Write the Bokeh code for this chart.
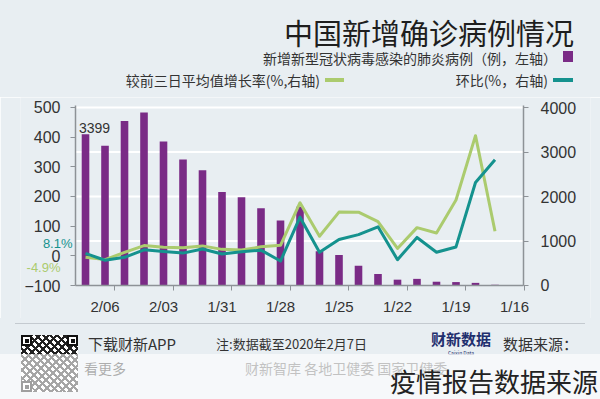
from bokeh.plotting import figure
from bokeh.models import Range1d, LinearAxis, FixedTicker, Label, Div
from bokeh.layouts import column
from bokeh.embed import file_html
from bokeh.resources import INLINE

# ---------------- data ----------------
dates = ["1/16", "1/17", "1/18", "1/19", "1/20", "1/21", "1/22", "1/23", "1/24",
         "1/25", "1/26", "1/27", "1/28", "1/29", "1/30", "1/31", "2/01", "2/02",
         "2/03", "2/04", "2/05", "2/06", "2/07"]
new_cases = [4, 17, 59, 77, 85, 149, 131, 259, 444, 688, 769, 1771, 1459, 1737,
             1982, 2102, 2590, 2829, 3235, 3887, 3694, 3143, 3399]
# 1/17 .. 2/07
mom_pct = [324, 247, 30, 12, 62, -13, 97.7, 71.4, 55.0, 11.8, 130.3, -17.6, 19.1,
           14.1, 6.1, 23.2, 9.2, 14.4, 20.2, -5.0, -14.9, 8.1]
vs3day_pct = [83, 405, 188, 77, 95, 25, 115, 147, 147.5, 66, 179, 35.6, 30.3,
              19.7, 21.8, 33.5, 27.2, 29.0, 34.7, 11.4, -12.8, -4.9]
tick_days = [0, 3, 6, 9, 12, 15, 18, 21]
pct_ticks = [-100, 0, 100, 200, 300, 400, 500]
case_ticks = [0, 1000, 2000, 3000, 4000]

title_text = "中国新增确诊病例情况"
legend_bar = "新增新型冠状病毒感染的肺炎病例（例，左轴）"
legend_mom = "环比(%，右轴)"
legend_3d = "较前三日平均值增长率(%,右轴)"

BG = "#e8eef2"
PURPLE = "#7a2b86"
TEAL = "#15928e"
GREEN = "#abcb6e"
TXT = "#333333"
CJKF = "'Noto Sans CJK SC', 'Noto Sans', sans-serif"
LAT = "Liberation Sans"
W = 600

days = list(range(len(dates)))
line_days = days[1:]


def span(text, cx=None, right=None, left=None, cy=0, fs=14, color=TXT, extra=""):
    if right is not None:
        pos = f"right:{W - right}px;"
    elif left is not None:
        pos = f"left:{left}px;"
    else:
        pos = f"left:{cx - 100}px;width:200px;text-align:center;"
    return (f'<span style="position:absolute;{pos}top:{cy - fs * 0.5:.1f}px;'
            f'font-size:{fs}px;line-height:{fs}px;color:{color};white-space:nowrap;'
            f'font-family:{CJKF};{extra}">{text}</span>')


def box(l, t, r, b, color, extra=""):
    return (f'<div style="position:absolute;left:{l}px;top:{t}px;width:{r - l}px;'
            f'height:{b - t}px;background:{color};{extra}"></div>')


# ---------------- header (page y 0..97) ----------------
H1 = 97
hdr_html = (f'<div style="position:relative;width:{W}px;height:{H1}px;background:{BG};overflow:hidden;">'
            + span(title_text, right=574, cy=32.5, fs=29, color="#1e1e1e")
            + box(563, 51, 573, 62, PURPLE)
            + span(legend_bar, right=557, cy=57.5, fs=14)
            + box(553, 78, 573, 82, TEAL)
            + span(legend_mom, right=548, cy=80, fs=14)
            + box(325, 78, 344, 82, GREEN)
            + span(legend_3d, right=320, cy=80, fs=14)
            + '</div>')
hdr = Div(text=hdr_html, width=W, height=H1, margin=0)

# ---------------- main chart (page y 97..318, frame x 20..590) ----------------
# axes: left at page x 75, right at page x 523, y 105..285
X_AX_L = 22.513          # day value at the left axis
X_AX_R = -0.462          # day value at the right axis
PCT_TOP = 506.7          # left-axis value at the top of the axes
CASE_TOP = 4045          # right-axis value at the top of the axes
p = figure(width=W, height=221,
           x_range=Range1d(25.334, -3.898),
           y_range=Range1d(-211.2, 533.66),
           output_backend="svg", toolbar_location=None, margin=0,
           min_border_left=20, min_border_right=10, min_border_top=0, min_border_bottom=0,
           background_fill_color=BG, border_fill_color=BG, outline_line_color=None)
p.extra_y_ranges = {"cases": Range1d(-741.6, 4224.8)}
p.xgrid.visible = False
p.ygrid.visible = False

# white horizontal grid lines at the right-axis ticks
p.segment(x0=X_AX_L, x1=X_AX_R, y0=case_ticks[1:], y1=case_ticks[1:], y_range_name="cases",
          line_color="white", line_width=2)

p.vbar(x=days, top=new_cases, width=0.39, y_range_name="cases", fill_color=PURPLE, line_color=None)
p.line(line_days, vs3day_pct, line_color=GREEN, line_width=3, line_join="round")
p.line(line_days, mom_pct, line_color=TEAL, line_width=3, line_join="round")

AX = "#8d9297"


def style_axis(ax, standoff, size="16px"):
    ax.axis_line_color = AX
    ax.axis_line_width = 1.5
    ax.major_tick_line_color = AX
    ax.major_tick_in = 0
    ax.major_tick_out = 5
    ax.minor_tick_line_color = None
    ax.major_label_standoff = standoff
    ax.major_label_text_font = LAT
    ax.major_label_text_font_size = size
    ax.major_label_text_color = TXT


ya = p.yaxis[0]
ya.fixed_location = X_AX_L
ya.bounds = (pct_ticks[0], PCT_TOP)
ya.ticker = FixedTicker(ticks=pct_ticks)
style_axis(ya, 10)

ra = LinearAxis(y_range_name="cases", ticker=FixedTicker(ticks=case_ticks),
                bounds=(0, CASE_TOP), fixed_location=X_AX_R)
style_axis(ra, 12)
p.add_layout(ra, "right")

xa = p.xaxis[0]
xa.fixed_location = pct_ticks[0]
xa.bounds = (X_AX_R, X_AX_L)
xa.ticker = FixedTicker(ticks=tick_days, minor_ticks=[d - 0.5 for d in tick_days])
xa.major_label_overrides = {d: dates[d] for d in tick_days}
style_axis(xa, 7, "15px")
xa.major_tick_line_color = None
xa.major_tick_out = 0
xa.minor_tick_line_color = AX
xa.minor_tick_in = 0
xa.minor_tick_out = 5


def py2pct(py):
    return (255.33 - py) / 0.29669


p.add_layout(Label(x=days[-1], y=new_cases[-1], y_range_name="cases", x_offset=9, y_offset=1,
                   text=str(new_cases[-1]), text_align="center", text_baseline="bottom",
                   text_font=LAT, text_font_size="14px", text_color=TXT))
p.add_layout(Label(x=X_AX_L, y=py2pct(243), x_offset=-3, text=f"{mom_pct[-1]}%",
                   text_align="right", text_baseline="middle",
                   text_font=LAT, text_font_size="13px", text_color=TEAL))
p.add_layout(Label(x=X_AX_L, y=py2pct(267), x_offset=-15, text=f"{vs3day_pct[-1]}%",
                   text_align="right", text_baseline="middle",
                   text_font=LAT, text_font_size="13px", text_color=GREEN))

# ---------------- footer (page y 318..399) ----------------
Y0 = 318
H3 = 399 - Y0
qr = box(21, 335 - Y0, 78, 392 - Y0, "white",
         "background-image:repeating-linear-gradient(45deg,#222 0 2px,transparent 2px 5px),"
         "repeating-linear-gradient(-45deg,#222 0 2px,transparent 2px 6px);")
finders = ""
for qx, qy in [(21, 335), (67, 335), (21, 381)]:
    finders += box(qx, qy - Y0, qx + 11, qy + 11 - Y0, "white", "box-sizing:border-box;border:2px solid #111;")
    finders += box(qx + 3.5, qy + 3.5 - Y0, qx + 7.5, qy + 7.5 - Y0, "#111")
ftr_html = (f'<div style="position:relative;width:{W}px;height:{H3}px;background:{BG};overflow:hidden;">'
            + box(15, 323 - Y0, 585, 324 - Y0, "#c4cad0")
            + span("数据来源：", right=578, cy=343 - Y0, fs=15)
            + span("财新数据", cx=461, cy=338 - Y0, fs=15, color="#1f2f6e", extra="font-weight:bold;")
            + span("Caixin Data", cx=461, cy=352 - Y0, fs=5, color="#1f2f6e")
            + span("注:数据截至2020年2月7日", right=367, cy=343 - Y0, fs=13)
            + span("下载财新APP", right=176, cy=343 - Y0, fs=15)
            + span("看更多", right=126, cy=368 - Y0, fs=14)
            + span("财新智库 各地卫健委 国家卫健委", left=245, cy=368 - Y0, fs=14, color="#666")
            + qr + finders
            + box(0, 354 - Y0, W, H3, "rgba(255,255,255,0.6)")
            + span("疫情报告数据来源", right=598, cy=381 - Y0, fs=26, color="#222")
            + '</div>')
ftr = Div(text=ftr_html, width=W, height=H3, margin=0)

layout = column(hdr, p, ftr, spacing=0)
open("out.html", "w").write(file_html(layout, INLINE))
